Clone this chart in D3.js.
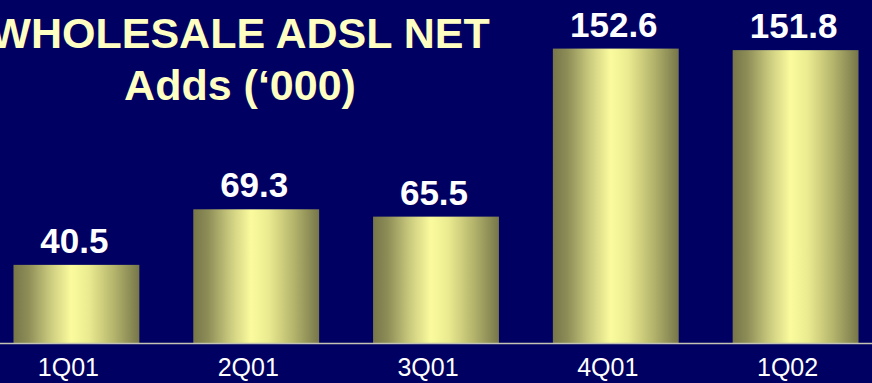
<!DOCTYPE html>
<html>
<head>
<meta charset="utf-8">
<script src="https://cdn.jsdelivr.net/npm/d3@7"></script>
<style>
  html, body { margin: 0; padding: 0; background: #000062; overflow: hidden; }
  svg { display: block; }
</style>
</head>
<body>
<svg id="chart" width="872" height="383"></svg>
<script>
// Wholesale ADSL net additions per quarter, thousands
const quarters = ["1Q01", "2Q01", "3Q01", "4Q01", "1Q02"];
const netAdds = [40.5, 69.3, 65.5, 152.6, 151.8];
const titleLines = ["WHOLESALE ADSL NET", "Adds (\u2018000)"];

const width = 872, height = 383;
const baseY = 343;

const svg = d3.select("#chart");

svg.append("rect")
  .attr("width", width).attr("height", height)
  .attr("fill", "#000062");

// Cylinder-like shading across each column
const grad = svg.append("defs").append("linearGradient")
  .attr("id", "barShade")
  .attr("x1", "0%").attr("x2", "100%").attr("y1", "0%").attr("y2", "0%");
[
  [0.00, "#76764a"],
  [0.12, "#8e8e58"],
  [0.30, "#cdcd80"],
  [0.46, "#fbfb9e"],
  [0.60, "#eaea90"],
  [0.80, "#b4b46c"],
  [1.00, "#76764a"]
].forEach(([o, c]) => grad.append("stop").attr("offset", o).attr("stop-color", c));

const x = d3.scaleBand()
  .domain(quarters)
  .range([0, width])
  .paddingInner(0.3)
  .paddingOuter(0.075);

const y = d3.scaleLinear()
  .domain([0, 155.5])
  .range([baseY, 43]);

const rows = quarters.map((q, i) => ({ q, v: netAdds[i] }));

// Columns
svg.append("g").selectAll("rect")
  .data(rows)
  .join("rect")
  .attr("x", d => x(d.q))
  .attr("y", d => y(d.v))
  .attr("width", x.bandwidth())
  .attr("height", d => y(0) - y(d.v))
  .attr("fill", "url(#barShade)");

// Baseline
svg.append("line")
  .attr("x1", 0).attr("x2", width)
  .attr("y1", baseY + 0.5).attr("y2", baseY + 0.5)
  .attr("stroke", "#c4c4b4")
  .attr("stroke-width", 1.5);

// Value labels above each column
svg.append("g").selectAll("text")
  .data(rows)
  .join("text")
  .attr("x", d => x(d.q) + x.bandwidth() / 2 - 2)
  .attr("y", d => y(d.v) - 12)
  .attr("text-anchor", "middle")
  .attr("font-family", "'Liberation Sans', Arial, sans-serif")
  .attr("font-weight", "bold")
  .attr("font-size", 35)
  .attr("fill", "#ffffff")
  .text(d => d.v.toFixed(1));

// Quarter labels
const xAxis = d3.axisBottom(x).tickSize(0).tickPadding(0);
const axisG = svg.append("g")
  .attr("transform", `translate(-8,${baseY})`)
  .call(xAxis);
axisG.select(".domain").remove();
axisG.selectAll("text")
  .attr("dy", null)
  .attr("y", 33)
  .attr("font-family", "'Liberation Sans', Arial, sans-serif")
  .attr("font-size", 25)
  .attr("fill", "#ffffff");

// Title
svg.append("g").selectAll("text")
  .data(titleLines)
  .join("text")
  .attr("x", 240)
  .attr("y", (d, i) => 48 + i * 52)
  .attr("text-anchor", "middle")
  .attr("font-family", "'Liberation Sans', Arial, sans-serif")
  .attr("font-weight", "bold")
  .attr("font-size", 43)
  .attr("fill", "#ffffc2")
  .text(d => d);
</script>
</body>
</html>
